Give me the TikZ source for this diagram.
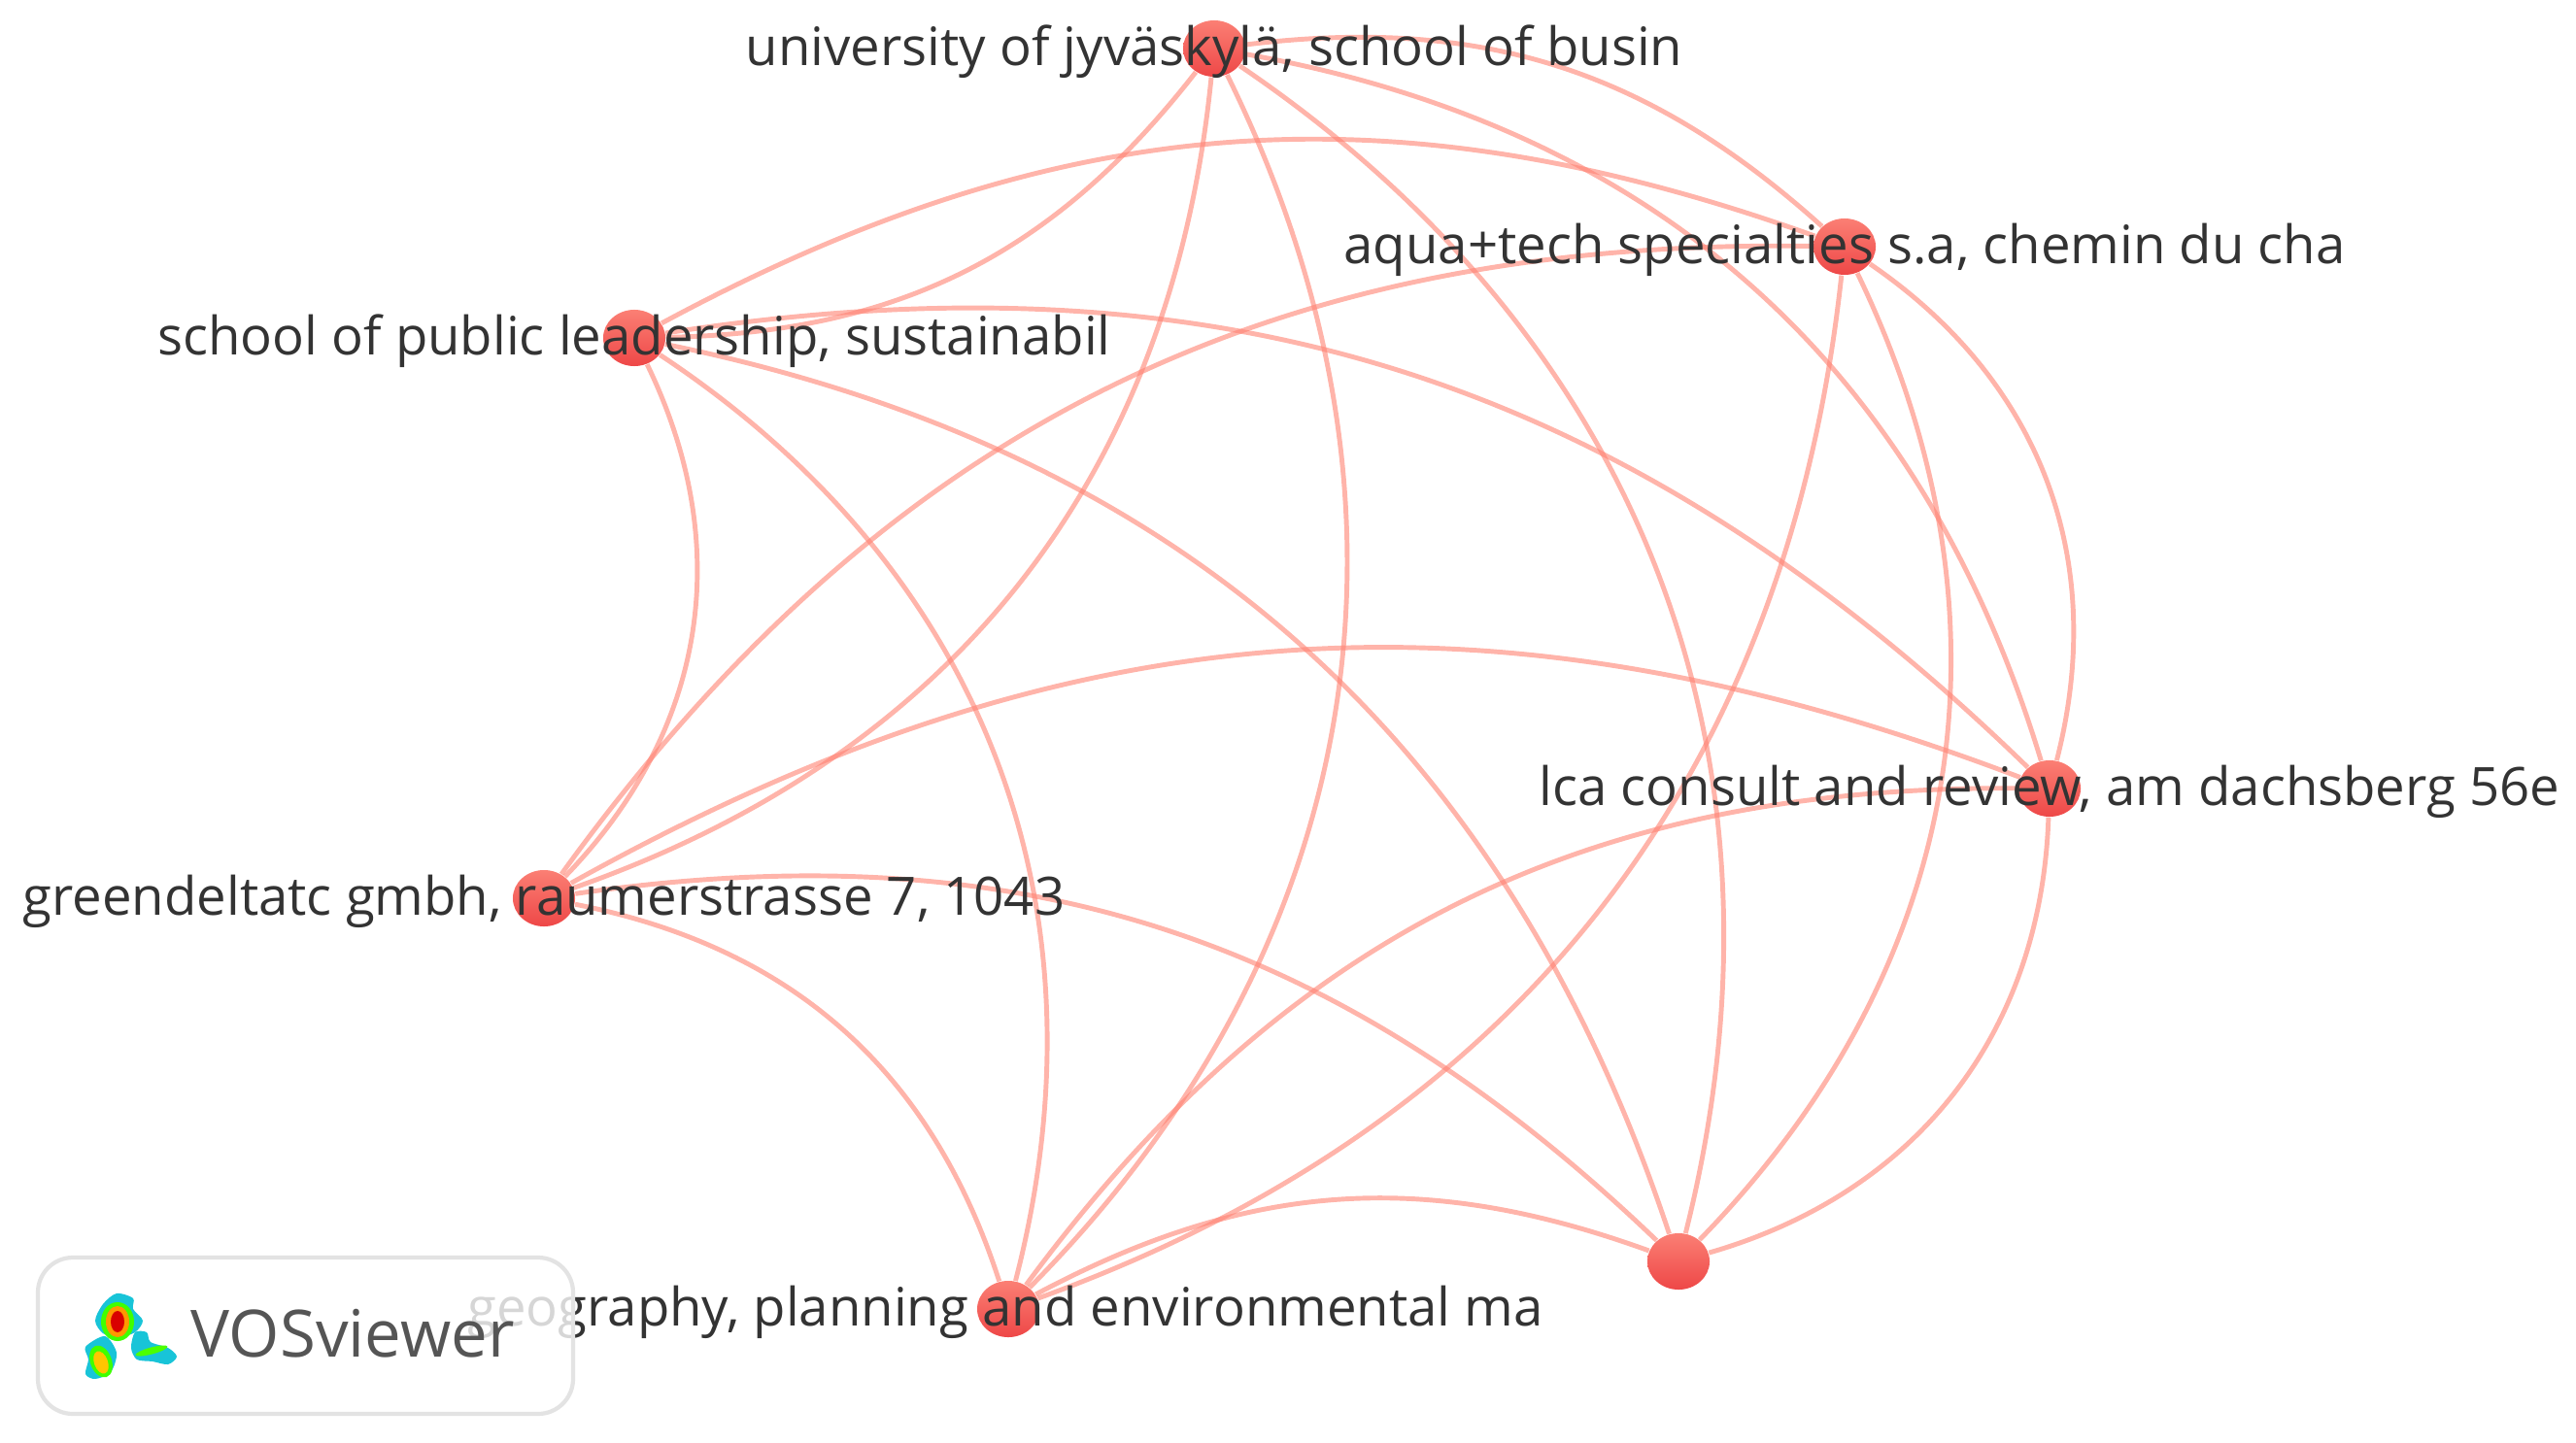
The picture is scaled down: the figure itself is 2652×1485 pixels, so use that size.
\documentclass[tikz,border=0pt]{standalone}
\usepackage{fontspec}
\usetikzlibrary{shapes.geometric}
\setmainfont{Open Sans}
\definecolor{edgecol}{HTML}{FF8272}
\definecolor{nodetop}{HTML}{FB7F74}
\definecolor{nodebot}{HTML}{EE4747}
\definecolor{labelcol}{HTML}{333333}
\definecolor{logotxt}{HTML}{555555}
\definecolor{logocyan}{HTML}{18C4D8}
\tikzset{
  unit/.style={ellipse,inner sep=0pt,minimum width=0.64cm,minimum height=0.58cm,top color=nodetop,bottom color=nodebot},
  link/.style={edgecol,line width=1.4pt,opacity=0.6},
  lbl/.style={text=labelcol,font=\fontsize{15.5}{18}\selectfont,inner sep=0pt,yshift=-0.03cm},
}
\begin{document}
\begin{tikzpicture}[x=0.01cm,y=-0.01cm]
        \useasboundingbox (0,0) rectangle (2652,1485);

        % Nodos
        \node[unit] (jyv) at (1250,50) {};
        \node[unit] (aqua) at (1899,254) {};
        \node[unit] (school) at (653,348) {};
        \node[unit] (lca) at (2110,812) {};
        \node[unit] (green) at (560,925) {};
        \node[unit] (geo) at (1038,1348) {};
        \node[unit] (extra) at (1728,1299) {};

        % Aristas
        \draw[link] (jyv) to[bend left=24.5] (aqua);
        \draw[link] (jyv) to[bend left=25.5] (school);
        \draw[link] (jyv) to[bend left=31.5] (lca);
        \draw[link] (jyv) to[bend left=32.5] (green);
        \draw[link] (jyv) to[bend left=35.5] (geo);
        \draw[link] (jyv) to[bend left=35] (extra);
        \draw[link] (school) to[bend left=24] (aqua);
        \draw[link] (aqua) to[bend left=35] (lca);
        \draw[link] (aqua) to[bend right=27.5] (green);
        \draw[link] (aqua) to[bend left=32] (geo);
        \draw[link] (aqua) to[bend left=35] (extra);
        \draw[link] (school) to[bend left=26.5] (lca);
        \draw[link] (school) to[bend left=35] (green);
        \draw[link] (school) to[bend left=35.5] (geo);
        \draw[link] (school) to[bend left=30] (extra);
        \draw[link] (green) to[bend left=25] (lca);
        \draw[link] (geo) to[bend left=27] (lca);
        \draw[link] (lca) to[bend left=36] (extra);
        \draw[link] (green) to[bend left=30.5] (geo);
        \draw[link] (green) to[bend left=26] (extra);
        \draw[link] (geo) to[bend left=24] (extra);

        % Etiquetas
        \node[lbl] (ljyv) at (jyv) {university of jyväskylä, school of busin};
        \node[lbl] (laqua) at (aqua) {aqua+tech specialties s.a, chemin du cha};
        \node[lbl] (lschool) at (school) {school of public leadership, sustainabil};
        \node[lbl] (llca) at (lca) {lca consult and review, am dachsberg 56e};
        \node[lbl] (lgreen) at (green) {greendeltatc gmbh, raumerstrasse 7, 1043};
        \node[lbl] (lgeo) at (1035,1348) {geography, planning and environmental ma};

        % Logo
        \fill[white,opacity=0.8] (39,1293) rectangle (590,1457);
        \draw[black!11,line width=1.2pt,rounded corners=0.36cm] (39,1295) rectangle (590,1456);
        \fill[logocyan] plot[smooth cycle] coordinates {(120,1332) (137,1337) (137,1348) (147,1360) (139,1372) (122,1377) (106,1373) (98,1360) (106,1343)};
        \fill[logocyan] plot[smooth cycle] coordinates {(88,1387) (108,1376) (120,1393) (114,1413) (98,1420) (88,1415) (91,1400)};
        \fill[logocyan] plot[smooth cycle] coordinates {(139,1372) (151,1372) (155,1382) (173,1388) (182,1397) (173,1405) (157,1402) (141,1400) (135,1388)};
        \fill[green!75!yellow] (121,1361) ellipse (0.17cm and 0.2cm);
        \fill[orange!80!yellow] (121,1361) ellipse (0.12cm and 0.16cm);
        \fill[red!85!black] (121,1361) ellipse (0.07cm and 0.11cm);
        \fill[green!75!yellow,rotate around={20:(104,1402)}] (104,1402) ellipse (0.11cm and 0.17cm);
        \fill[orange!45!yellow,rotate around={20:(104,1403)}] (104,1403) ellipse (0.07cm and 0.12cm);
        \fill[green!70!yellow,rotate around={15:(156,1391)}] (156,1391) ellipse (0.17cm and 0.035cm);
        \node[font=\fontsize{19.1}{22}\selectfont,text=logotxt,inner sep=0pt] (logo) at (363,1373) {VOSviewer};
    \end{tikzpicture}
\end{document}
